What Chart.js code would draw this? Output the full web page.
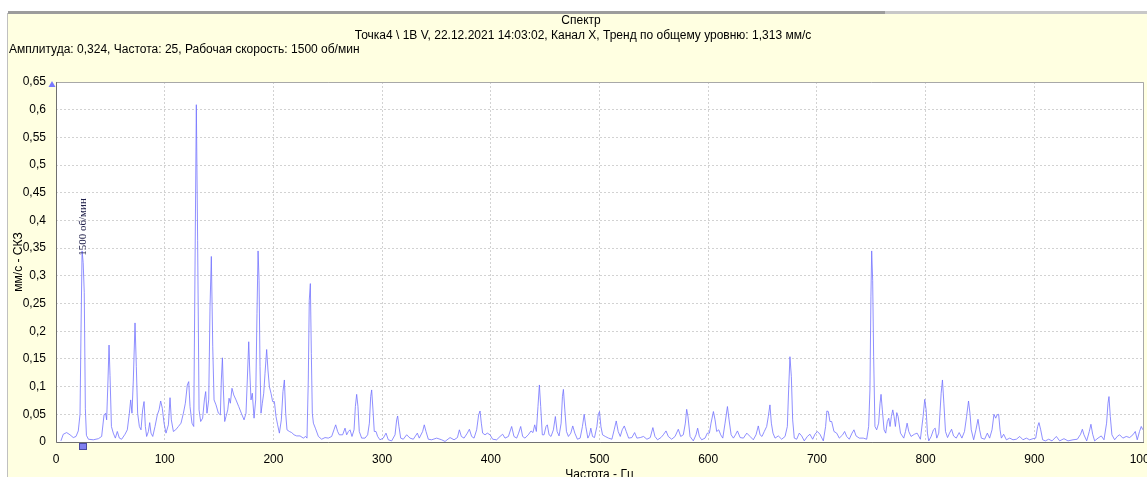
<!DOCTYPE html>
<html><head><meta charset="utf-8">
<script src="https://cdn.jsdelivr.net/npm/chart.js@4.4.1/dist/chart.umd.min.js"></script>
<style>html,body{margin:0;padding:0;background:#fff;overflow:hidden}#wrap{position:relative;width:1147px;height:477px}</style>
</head><body><div id="wrap"><canvas id="c" width="1147" height="477"></canvas></div>
<script>
const titleText = 'Спектр';
const subtitleText = 'Точка4 \\ 1В V, 22.12.2021 14:03:02, Канал X, Тренд по общему уровню: 1,313 мм/с';
const infoText = 'Амплитуда: 0,324, Частота: 25, Рабочая скорость: 1500 об/мин';
const xTitle = 'Частота - Гц';
const yTitle = 'мм/с - СКЗ';
const markerLabel = '1500 об/мин';
const markerFreq = 25;
const yTickLabels = ['0','0,05','0,1','0,15','0,2','0,25','0,3','0,35','0,4','0,45','0,5','0,55','0,6','0,65'];
const xTickLabels = ['0','100','200','300','400','500','600','700','800','900','1000'];

const freqHz = [
4.5,6.7,9.8,12.9,15.9,18.4,20.5,22.1,23,24,
25,26,27,28,29.8,34.3,39,42,44.2,45.7,
46.6,47.8,48.8,49.7,51,52.7,54.6,56.4,58.3,60.4,
63.5,65.6,67.5,68.7,69.9,71.1,72.7,73.9,75.1,76.7,
78.2,79.7,81,82.2,83.4,85,86.2,87.4,89,91.1,
93.2,94.8,96.3,97.8,99.4,101.2,103.4,104.9,106.1,108,
110.1,112.6,115,117.2,119,120.8,122.1,123.3,125.1,126.7,
127.9,129.1,130.3,131.6,133.1,134.9,136.5,137.7,138.9,140.5,
141.7,142.9,144.2,145.4,147.2,149.4,151.2,152.1,153.1,154,
155.2,156.4,158,159.2,160.4,161.9,163.5,165.6,168.1,170.5,
173,174.8,176,177.3,178.2,179.4,180.6,182.2,183.7,184.9,
185.9,186.8,187.7,188.6,189.8,191.1,192.3,193.8,195,196.3,
197.8,199.3,200.9,202.4,203.9,205.5,207.3,208.8,210.1,211.3,
212.5,214.7,216.8,219,221.4,224.5,227.5,229.7,230.9,232.1,
233,234,234.9,235.8,236.8,238.6,241.4,244.4,247.5,250.5,
253.6,255.7,257.3,259.1,260.6,263.7,265.9,267.4,269,270.5,
272.3,274.2,275.4,276.6,277.8,279,281.2,284.3,286.7,288.3,
289.5,290.4,291.6,292.8,294.4,295.9,298,301.1,303.6,305.7,
308.8,311.9,313.4,314.3,315.5,317.1,319.5,322.6,325.7,328.7,
332.4,334.2,337.3,338.8,340.4,342.5,345.6,350.2,354.8,357.9,
362.5,366.2,369.3,371.1,372.9,375.4,378.4,380.3,382.4,384.6,
387,388.8,390.1,391.3,392.5,394.7,396.8,399.3,401.7,405.4,
408.5,410.9,413.1,416.2,419.2,421.3,423.8,425.6,427.5,429.3,
431.4,434.5,437,438.8,440.4,441.9,443.4,444.7,445.9,447.4,
449,450.8,452,453.6,455.4,457.6,459.4,461,462.8,464.7,
465.9,466.8,468.1,469.6,471.4,473.6,475.4,477.3,479.7,482.2,
484.3,485.9,487.4,489.3,490.8,492,493.6,495.4,497.6,498.8,
500,501.3,502.8,505.3,508.3,511.4,513.5,515.4,517.2,519.1,
520.9,522.8,524.6,526.8,529.8,532.3,534.4,537.5,540.5,543.6,
546.7,549.1,551,553.4,556.5,558.7,561.2,563.3,566.4,569.5,
572.5,574.7,577.1,579,580.2,581.4,583.3,586.3,588.8,590.3,
591.9,594,597.1,599.2,601.1,602.6,604.8,606.3,607.8,609.7,
611.5,613.4,615.5,617.7,619.2,621.1,623.2,625.1,626.9,629.4,
632.4,635.5,638.5,641.5,644,646.1,647.7,649.5,651.6,653.8,
655.3,656.8,658.1,659.6,661.5,664.5,667.6,670.7,672.8,674,
675.2,676.5,677.7,679.2,681.4,683.8,686,688.4,691.2,693.6,
696.1,698.2,700.4,702.8,705.9,708,709.2,710.5,712,713.6,
715.7,718.2,720.6,723.7,725.5,727.4,729.8,732.3,734.1,736,
739,742.7,745.8,747.6,748.8,749.7,750.4,751.3,752.2,753.4,
755,756.8,758.1,759,760.2,761.8,763.3,764.8,766.1,767.3,
768.5,769.8,771,772.2,773.5,774.7,776.9,779.9,781.5,783,
784.5,786.6,789.7,792.2,795.2,797.7,799.2,800.5,801.7,802.9,
805.1,807.2,808.8,810.3,812.1,814.3,815.5,816.8,818.3,820.2,
822,823.9,825.7,828.2,830.9,833.4,835.8,837.7,839.5,840.8,
842,844.2,846.3,848.2,849.7,851.3,854.3,856.8,858.9,861.1,
862.9,864.5,865.7,867.2,868.5,869.7,871.8,874.3,877.4,880.4,
883.5,886.6,889.6,892.7,895.7,898.8,901.3,903.1,904.3,905.9,
907.7,910.2,913.2,916.3,920.3,923.3,927.3,931,935.6,939.6,
942.6,944.2,945.7,948.2,950.6,952.1,953.7,955.5,958.6,961.6,
964.1,966.5,967.8,968.7,969.9,971.4,973.9,976.3,978.5,981.5,
984.6,987.7,990.7,992.9,994.7,996.8,998.4,999.9
];

const ampMmS = [
0.002,0.014,0.017,0.013,0.008,0.01,0.02,0.05,0.2,0.345,
0.324,0.27,0.06,0.012,0.005,0.004,0.006,0.01,0.049,0.052,
0.04,0.11,0.175,0.12,0.028,0.016,0.007,0.019,0.007,0.005,
0.014,0.022,0.052,0.076,0.052,0.11,0.215,0.136,0.052,0.028,
0.022,0.058,0.073,0.028,0.01,0.019,0.035,0.016,0.01,0.028,
0.049,0.058,0.074,0.061,0.034,0.016,0.031,0.08,0.04,0.019,
0.022,0.028,0.034,0.052,0.07,0.103,0.109,0.064,0.034,0.028,
0.316,0.609,0.364,0.058,0.037,0.043,0.076,0.091,0.052,0.076,
0.244,0.335,0.172,0.076,0.067,0.052,0.049,0.112,0.152,0.094,
0.037,0.046,0.058,0.079,0.07,0.097,0.085,0.076,0.064,0.052,
0.04,0.052,0.112,0.181,0.13,0.076,0.088,0.043,0.076,0.232,
0.345,0.292,0.136,0.052,0.07,0.088,0.124,0.167,0.13,0.1,
0.088,0.073,0.073,0.046,0.031,0.016,0.04,0.091,0.112,0.052,
0.022,0.019,0.017,0.013,0.011,0.011,0.007,0.01,0.007,0.112,
0.256,0.286,0.16,0.052,0.034,0.025,0.01,0.005,0.008,0.007,
0.01,0.022,0.031,0.019,0.013,0.013,0.025,0.013,0.019,0.022,
0.01,0.022,0.064,0.086,0.064,0.019,0.007,0.007,0.013,0.034,
0.082,0.094,0.058,0.019,0.019,0.01,0.004,0.007,0.016,0.004,
0.002,0.013,0.04,0.047,0.028,0.007,0.005,0.013,0.007,0.005,
0.016,0.007,0.019,0.031,0.019,0.005,0.004,0.007,0.004,0.001,
0.008,0.004,0.008,0.022,0.01,0.007,0.016,0.023,0.01,0.007,
0.022,0.049,0.056,0.034,0.016,0.013,0.016,0.013,0.005,0.004,
0.01,0.014,0.007,0.01,0.028,0.01,0.007,0.016,0.028,0.01,
0.007,0.013,0.02,0.017,0.031,0.019,0.064,0.103,0.064,0.013,
0.013,0.028,0.031,0.013,0.01,0.022,0.046,0.019,0.011,0.034,
0.082,0.095,0.058,0.019,0.01,0.016,0.029,0.016,0.005,0.007,
0.028,0.05,0.028,0.007,0.013,0.025,0.01,0.008,0.028,0.049,
0.055,0.028,0.013,0.01,0.007,0.005,0.022,0.038,0.019,0.01,
0.022,0.029,0.019,0.007,0.008,0.017,0.007,0.008,0.01,0.005,
0.008,0.026,0.01,0.004,0.008,0.013,0.02,0.01,0.005,0.01,
0.023,0.01,0.013,0.034,0.059,0.046,0.01,0.002,0.013,0.025,
0.01,0.004,0.007,0.016,0.016,0.034,0.055,0.04,0.019,0.022,
0.013,0.007,0.034,0.064,0.04,0.013,0.007,0.013,0.02,0.008,
0.007,0.016,0.01,0.004,0.013,0.029,0.013,0.01,0.019,0.028,
0.046,0.067,0.034,0.016,0.007,0.011,0.005,0.01,0.028,0.094,
0.154,0.118,0.04,0.007,0.005,0.016,0.011,0.002,0.01,0.014,
0.005,0.014,0.019,0.014,0.002,0.028,0.056,0.055,0.037,0.037,
0.019,0.016,0.007,0.013,0.019,0.01,0.005,0.016,0.022,0.011,
0.007,0.007,0.005,0.028,0.094,0.262,0.345,0.292,0.154,0.028,
0.022,0.034,0.07,0.086,0.058,0.022,0.016,0.037,0.043,0.028,
0.046,0.058,0.046,0.028,0.053,0.046,0.016,0.007,0.019,0.034,
0.019,0.01,0.014,0.016,0.005,0.046,0.077,0.058,0.016,0.002,
0.01,0.022,0.025,0.007,0.016,0.088,0.112,0.07,0.019,0.008,
0.016,0.023,0.011,0.007,0.017,0.007,0.019,0.046,0.074,0.052,
0.022,0.004,0.022,0.041,0.022,0.007,0.005,0.016,0.007,0.022,
0.05,0.043,0.049,0.05,0.022,0.007,0.014,0.004,0.007,0.004,
0.005,0.01,0.004,0.007,0.004,0.006,0.007,0.028,0.035,0.022,
0.004,0.002,0.005,0.002,0.01,0.002,0.006,0.002,0.004,0.005,
0.014,0.023,0.013,0.002,0.019,0.032,0.014,0.002,0.007,0.011,
0.004,0.034,0.07,0.082,0.046,0.013,0.004,0.01,0.013,0.007,
0.01,0.008,0.013,0.019,0.004,0.019,0.028,0.022
];

const FONT = '"Liberation Sans", Arial, sans-serif';
const points = freqHz.map((f, i) => ({x: f, y: ampMmS[i]}));

const decor = {
  id: 'decor',
  beforeDraw(chart) {
    const c = chart.ctx, a = chart.chartArea;
    c.save();
    c.fillStyle = '#ffffff'; c.fillRect(0, 0, 1147, 477);
    c.fillStyle = '#ffffe1'; c.fillRect(7, 13, 1140, 464);
    c.fillStyle = '#9c9c9c'; c.fillRect(8, 11, 877, 3);
    c.fillStyle = '#c8c8c8'; c.fillRect(885, 11, 262, 3);
    c.fillStyle = '#c0c0c0'; c.fillRect(7, 13, 1, 464);
    c.fillStyle = '#ffffff'; c.fillRect(a.left, a.top, a.right - a.left + 1, a.bottom - a.top);
    c.fillStyle = '#000';
    c.font = '12px ' + FONT;
    c.textBaseline = 'middle';
    c.textAlign = 'center';
    c.fillText(titleText, 581, 21);
    c.fillText(subtitleText, 583, 36);
    c.textAlign = 'left';
    c.fillText(infoText, 9, 50);
    c.restore();
  },
  afterDraw(chart) {
    const c = chart.ctx, a = chart.chartArea;
    const xs = chart.scales.x;
    c.save();
    c.strokeStyle = '#a8a8a8'; c.lineWidth = 1;
    c.beginPath();
    c.moveTo(a.left + 0.5, a.top + 0.5); c.lineTo(a.right + 0.5, a.top + 0.5); c.lineTo(a.right + 0.5, a.bottom);
    c.stroke();
    c.strokeStyle = '#707070';
    c.beginPath(); c.moveTo(a.left + 0.5, a.top); c.lineTo(a.left + 0.5, a.bottom + 0.5); c.lineTo(a.right + 1, a.bottom + 0.5); c.stroke();
    c.fillStyle = '#7878ff';
    c.beginPath(); c.moveTo(52, 81); c.lineTo(55.5, 87); c.lineTo(48.5, 87); c.closePath(); c.fill();
    const mx = Math.round(xs.getPixelForValue(markerFreq));
    c.fillStyle = '#8080f0'; c.fillRect(mx - 3.5, 443.5, 7, 6);
    c.strokeStyle = '#4a4aa0'; c.strokeRect(mx - 3.5, 443.5, 7, 6);
    c.translate(mx + 0.5, 227);
    c.rotate(-Math.PI / 2);
    c.font = '11px "Liberation Serif", "Times New Roman", serif';
    c.fillStyle = '#20204a';
    c.textAlign = 'center'; c.textBaseline = 'middle';
    c.fillText(markerLabel, 0, 0);
    c.restore();
  }
};

new Chart(document.getElementById('c'), {
  type: 'line',
  data: { datasets: [{
    data: points, borderColor: 'rgba(115,115,255,0.8)', borderWidth: 1,
    pointRadius: 0, tension: 0, fill: false
  }]},
  options: {
    responsive: false, animation: false, events: [],
    parsing: false, normalized: true,
    layout: { padding: { left: 0, right: 4, top: 82, bottom: 0 } },
    plugins: { legend: { display: false }, tooltip: { enabled: false }, title: {display:false} },
    scales: {
      x: {
        type: 'linear', min: 0, max: 1000,
        afterFit(s) { s.height = 35; s.paddingLeft = 0; s.paddingRight = 0; },
        ticks: { stepSize: 100, padding: 10, color: '#000', maxRotation: 0, autoSkip: false,
          font: { family: FONT, size: 12 }, callback: v => xTickLabels[Math.round(v / 100)] },
        grid: { color: '#d2d2d2', drawTicks: false },
        border: { display: false, dash: [2, 2] },
        title: { display: true, text: xTitle, color: '#000', font: { family: FONT, size: 12 }, padding: { top: 0, bottom: -5 } }
      },
      y: {
        type: 'linear', min: 0, max: 0.65,
        afterFit(s) { s.width = 56; s.paddingTop = 0; s.paddingBottom = 0; },
        ticks: { stepSize: 0.05, padding: 10, color: '#000',
          font: { family: FONT, size: 12 }, callback: v => yTickLabels[Math.round(v / 0.05)] },
        grid: { color: '#d2d2d2', drawTicks: false },
        border: { display: false, dash: [2, 2] },
        title: { display: true, text: yTitle, color: '#000', font: { family: FONT, size: 12 }, padding: { top: 11, bottom: 0 } }
      }
    }
  },
  plugins: [decor]
});
</script>
</body></html>
